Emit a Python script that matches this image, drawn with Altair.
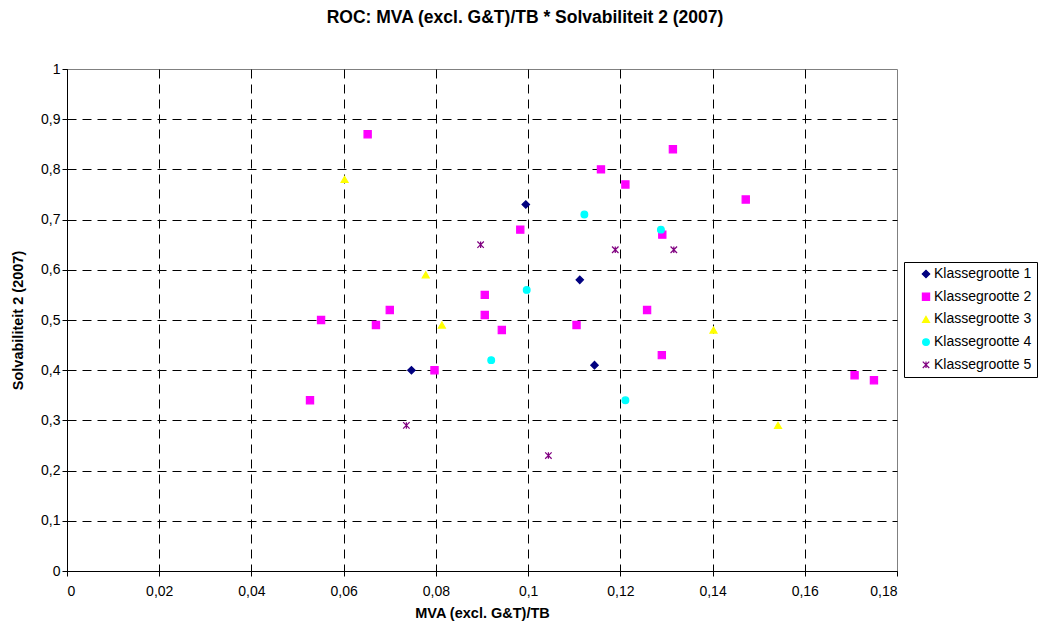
import altair as alt
import pandas as pd

# ---- data ----
series_names = ["Klassegrootte 1", "Klassegrootte 2", "Klassegrootte 3",
                "Klassegrootte 4", "Klassegrootte 5"]

k1_x = [0.0995, 0.1112, 0.0747, 0.1144]
k1_y = [0.73, 0.58, 0.40, 0.41]

k2_x = [0.0652, 0.1314, 0.1158, 0.1211, 0.1472, 0.0983, 0.1291, 0.0906,
        0.0700, 0.1258, 0.0906, 0.0551, 0.0670, 0.1105, 0.0943, 0.1290,
        0.0797, 0.1708, 0.1750, 0.0527]
k2_y = [0.87, 0.84, 0.80, 0.77, 0.74, 0.68, 0.67, 0.55,
        0.52, 0.52, 0.51, 0.50, 0.49, 0.49, 0.48, 0.43,
        0.40, 0.39, 0.38, 0.34]

k3_x = [0.0602, 0.0778, 0.0813, 0.1402, 0.1542]
k3_y = [0.78, 0.59, 0.49, 0.48, 0.29]

k4_x = [0.1122, 0.1288, 0.0997, 0.0920, 0.1211]
k4_y = [0.71, 0.68, 0.56, 0.42, 0.34]

k5_x = [0.0897, 0.1189, 0.1316, 0.0736, 0.1044]
k5_y = [0.65, 0.64, 0.64, 0.29, 0.23]

x_ticks = [0, 0.02, 0.04, 0.06, 0.08, 0.1, 0.12, 0.14, 0.16, 0.18]
y_ticks = [0, 0.1, 0.2, 0.3, 0.4, 0.5, 0.6, 0.7, 0.8, 0.9, 1]

colors = ["#000080", "#FF00FF", "#FFFF00", "#00FFFF", "#800080"]
shapes = ["diamond", "square", "triangle-up", "circle",
          "M-1,-1L1,1M-1,1L1,-1M0,-1L0,1"]
sizes = [55, 42, 55, 52, 85]
stroke_widths = [1.2, 1.2, 1.2, 1.2, 1.6]

rows = []
for name, xs, ys in zip(series_names,
                        [k1_x, k2_x, k3_x, k4_x, k5_x],
                        [k1_y, k2_y, k3_y, k4_y, k5_y]):
    for xv, yv in zip(xs, ys):
        rows.append({"series": name, "x": xv, "y": yv})
df = pd.DataFrame(rows)

FONT = "Liberation Sans"

legend = alt.Legend(
    title=None, orient="none", legendX=837, legendY=193,
    strokeColor="black", fillColor="white", padding=5,
    rowPadding=8.7, labelFontSize=14, labelFont=FONT, labelColor="black",
    symbolOffset=10, labelOffset=1,
    labelExpr="datum.label + '\u00a0\u00a0\u00a0'",
)

chart = alt.Chart(df).mark_point(filled=True, opacity=1).encode(
    x=alt.X("x:Q", scale=alt.Scale(domain=[0, 0.18], nice=False, zero=False),
            axis=alt.Axis(
                values=x_ticks, title="MVA (excl. G&T)/TB",
                labelExpr="replace(toString(datum.value), '.', ',')",
                grid=True, gridColor="black", gridDash=[9, 6], gridWidth=1,
                gridOpacity={"condition": {"test": "datum.value >= 0.18", "value": 0}, "value": 1},
                domainColor="black", tickColor="black", tickSize=5,
                labelFont=FONT, labelFontSize=14, labelColor="black", labelPadding=8,
                titleFont=FONT, titleFontSize=14.5, titleFontWeight="bold",
                titleColor="black", titleY=42, titleBaseline="middle")),
    y=alt.Y("y:Q", scale=alt.Scale(domain=[0, 1], nice=False),
            axis=alt.Axis(
                values=y_ticks, title="Solvabiliteit 2 (2007)",
                labelExpr="replace(toString(datum.value), '.', ',')",
                grid=True, gridColor="black", gridDash=[9, 6], gridWidth=1,
                gridOpacity={"condition": {"test": "datum.value >= 1", "value": 0}, "value": 1},
                domainColor="black", tickColor="black", tickSize=5,
                labelFont=FONT, labelFontSize=14, labelColor="black", labelPadding=2,
                titleFont=FONT, titleFontSize=14.5, titleFontWeight="bold",
                titleColor="black", titleX=-49, titleBaseline="middle")),
    color=alt.Color("series:N", scale=alt.Scale(domain=series_names, range=colors), legend=legend),
    stroke=alt.Stroke("series:N", scale=alt.Scale(domain=series_names, range=colors), legend=legend),
    shape=alt.Shape("series:N", scale=alt.Scale(domain=series_names, range=shapes), legend=legend),
    size=alt.Size("series:N", scale=alt.Scale(domain=series_names, range=sizes), legend=legend),
    strokeWidth=alt.StrokeWidth("series:N", scale=alt.Scale(domain=series_names, range=stroke_widths), legend=legend),
).properties(
    width=830, height=502,
    title=alt.TitleParams(
        "ROC: MVA (excl. G&T)/TB * Solvabiliteit 2 (2007)",
        font=FONT, fontSize=17.5, fontWeight="bold", color="black",
        anchor="middle", dx=43, offset=22, baseline="alphabetic"),
    padding={"left": 67, "top": 69, "right": 161, "bottom": 56},
    autosize=alt.AutoSizeParams(type="none"),
    background="white",
).configure_view(stroke="#808080", strokeWidth=1)

chart.save("out.html", embed_options={"renderer": "svg", "actions": False})
